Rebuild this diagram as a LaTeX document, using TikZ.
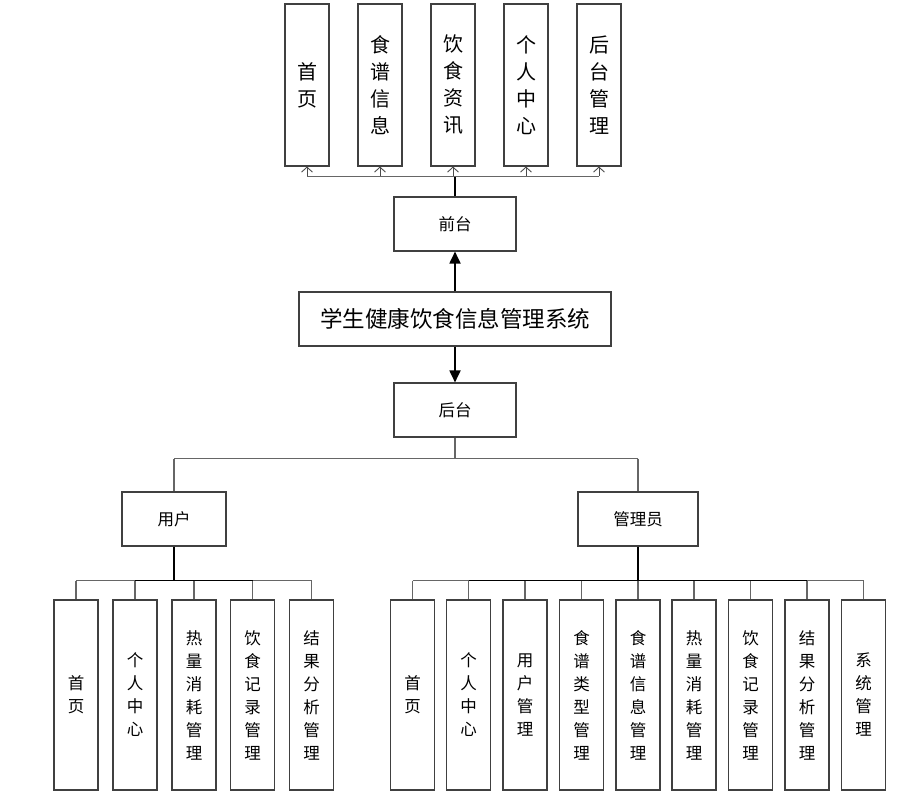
\documentclass[tikz,border=0pt]{standalone}
\usepackage{fontspec}
\newfontfamily\cjk{Noto Sans CJK SC}
\usetikzlibrary{arrows.meta,calc}
\tikzset{
  box/.style={draw=black!75, line width=1.1pt, fill=white, rectangle, inner sep=0pt, font=\cjk, text=black, align=center},
  tallbox/.style={box, minimum width=44pt, minimum height=162pt, font=\cjk\fontsize{20}{27}\selectfont},
  lowbox/.style={box, minimum width=44pt, minimum height=190pt, font=\cjk\fontsize{16.5}{23}\selectfont},
  midbox/.style={box, minimum height=54pt, font=\cjk\fontsize{16.5}{18}\selectfont},
  bus/.style={draw=black!60, line width=1.5pt},
  link/.style={draw=black, line width=1.7pt},
  barb/.style={draw=black!70, line width=0.9pt, -{Straight Barb[length=5pt,width=11pt]}},
  bigarrow/.style={draw=black, line width=1.8pt, -{Triangle[length=12pt,width=11pt]}}
}
\begin{document}
\begin{tikzpicture}[x=1pt,y=-1pt]
\useasboundingbox (0,0) rectangle (908,805);
% top row
\node[tallbox] (t1) at (307,85) {首\\页};
\node[tallbox] (t2) at (380,85) {食\\谱\\信\\息};
\node[tallbox] (t3) at (453,85) {饮\\食\\资\\讯};
\node[tallbox] (t4) at (526,85) {个\\人\\中\\心};
\node[tallbox] (t5) at (599,85) {后\\台\\管\\理};
% centre
\node[midbox, minimum width=122pt] (ft) at (455,224) {前台};
\node[box, minimum width=312pt, minimum height=54pt, font=\cjk\fontsize{22.5}{26}\selectfont] (main) at (455,319) {学生健康饮食信息管理系统};
\node[midbox, minimum width=122pt] (ht) at (455,410) {后台};
\node[midbox, minimum width=104pt] (yh) at (174,519) {用户};
\node[midbox, minimum width=120pt] (gl) at (638,519) {管理员};
% user children
\node[lowbox] (u1) at (76,695) {首\\页};
\node[lowbox] (u2) at (135,695) {个\\人\\中\\心};
\node[lowbox] (u3) at (194,695) {热\\量\\消\\耗\\管\\理};
\node[lowbox] (u4) at (252.5,695) {饮\\食\\记\\录\\管\\理};
\node[lowbox] (u5) at (311.5,695) {结\\果\\分\\析\\管\\理};
% admin children
\node[lowbox] (a1) at (412.5,695) {首\\页};
\node[lowbox] (a2) at (468.5,695) {个\\人\\中\\心};
\node[lowbox] (a3) at (525,695) {用\\户\\管\\理};
\node[lowbox] (a4) at (581.5,695) {食\\谱\\类\\型\\管\\理};
\node[lowbox] (a5) at (638,695) {食\\谱\\信\\息\\管\\理};
\node[lowbox] (a6) at (694,695) {热\\量\\消\\耗\\管\\理};
\node[lowbox] (a7) at (750.5,695) {饮\\食\\记\\录\\管\\理};
\node[lowbox] (a8) at (807,695) {结\\果\\分\\析\\管\\理};
\node[lowbox] (a9) at (863.5,695) {系\\统\\管\\理};
% front bus
\coordinate (fb) at ($(ft.north)+(0,-20)$);
\draw[link] (ft.north) -- (fb);
\draw[bus] (fb -| t1.south) -- (fb -| t5.south);
\foreach \n in {t1,t2,t3,t4,t5} \draw[barb] (fb -| \n.south) -- (\n.south);
% main arrows
\draw[bigarrow] (main.north) -- (ft.south);
\draw[bigarrow] (main.south) -- (ht.north);
% back bus
\coordinate (hb) at ($(ht.south)+(0,21)$);
\draw[bus] (ht.south) -- (hb);
\draw[bus] (hb -| yh.north) -- (hb -| gl.north);
\draw[bus] (hb -| yh.north) -- (yh.north);
\draw[bus] (hb -| gl.north) -- (gl.north);
% user bus
\coordinate (ub) at ($(yh.south)+(0,34)$);
\draw[bus] (ub -| u1.north) -- (ub -| u5.north);
\draw[link] (ub -| u2.north) -- (ub -| u4.north);
\draw[link] (yh.south) -- (ub);
\foreach \n in {u1,u2,u3,u4,u5} \draw[bus] (ub -| \n.north) -- (\n.north);
% admin bus
\coordinate (gb) at ($(gl.south)+(0,34)$);
\draw[bus] (gb -| a1.north) -- (gb -| a9.north);
\draw[link] (gb -| a2.north) -- (gb -| a8.north);
\draw[link] (gl.south) -- (gb);
\foreach \n in {a1,a2,a3,a4,a5,a6,a7,a8,a9} \draw[bus] (gb -| \n.north) -- (\n.north);
\end{tikzpicture}
\end{document}
